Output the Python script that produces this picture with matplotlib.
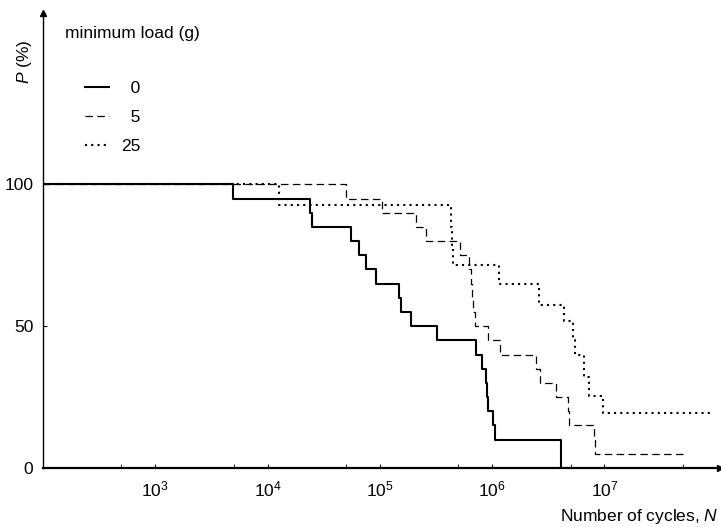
import matplotlib
matplotlib.use("Agg")
import matplotlib.pyplot as plt

plt.rcParams['font.family'] = ['Liberation Sans', 'DejaVu Sans']
plt.rcParams['mathtext.fontset'] = 'custom'
plt.rcParams['mathtext.rm'] = 'Liberation Sans'
plt.rcParams['mathtext.it'] = 'Liberation Sans:italic'

# survival curves: cycles at each step and the level after it
n_load0 = [1e2, 4.9e3, 2.4e4, 2.5e4, 5.5e4, 6.5e4, 7.5e4, 9.2e4, 1.48e5, 1.53e5,
           1.89e5, 3.2e5, 7.2e5, 8.1e5, 8.8e5, 9.0e5, 9.2e5, 1.02e6, 1.07e6, 4.1e6]
p_load0 = [100, 95, 90, 85, 80, 75, 70, 65, 60, 55,
           50, 45, 40, 35, 30, 25, 20, 15, 10, 0]

n_load5 = [1e2, 4.95e4, 1.04e5, 2.1e5, 2.6e5, 5.15e5, 6.25e5, 6.45e5, 6.6e5, 6.8e5,
           7.0e5, 9.2e5, 1.17e6, 2.48e6, 2.66e6, 3.69e6, 4.75e6, 4.8e6, 8.05e6, 8.3e6, 5.2e7]
p_load5 = [100, 95, 90, 85, 80, 75, 70, 65, 60, 55,
           50, 45, 40, 35, 30, 25, 20, 15, 10, 5, 5]

n_load25 = [1e2, 1.27e4, 4.27e5, 4.38e5, 4.5e5, 1.15e6, 2.6e6, 4.35e6, 5.26e6, 5.5e6,
            6.62e6, 7.26e6, 9.7e6, 9.0e7]
p_load25 = [100, 92.7, 85, 78.6, 71.4, 64.7, 57.3, 51.8, 45, 39.8,
            32.2, 25.3, 19.3, 19.3]

load_labels = ['\u20070', '\u20075', '25']
x_ticks = [1e3, 1e4, 1e5, 1e6, 1e7]
x_minor = [5e2, 5e3, 5e4, 5e5, 5e6, 5e7]
y_ticks = [0, 50, 100]

fig = plt.figure(figsize=(7.21, 5.27), dpi=100)
ax = fig.add_axes([43/721, 59/527, 677/721, 455/527])

l25, = ax.step(n_load25, p_load25, where='post', color='k', lw=1.5, ls=(0, (1, 2)))
l5, = ax.step(n_load5, p_load5, where='post', color='k', lw=0.9, ls=(0, (6, 3.5)))
l0, = ax.step(n_load0, p_load0, where='post', color='k', lw=1.5)

ax.set_xscale('log')
ax.set_xlim(1e2, 10**8.03)
ax.set_ylim(0, 160.4)
ax.set_xticks(x_ticks)
ax.set_xticks(x_minor, minor=True)
ax.set_xticklabels(['$10^{%d}$' % k for k in range(3, 8)])
ax.set_xticklabels([], minor=True)
ax.set_yticks(y_ticks)
ax.tick_params(axis='both', which='both', direction='in', length=3, labelsize=12.5)
ax.tick_params(axis='x', pad=8)
ax.tick_params(axis='y', pad=7)

ax.spines['top'].set_visible(False)
ax.spines['right'].set_visible(False)
ax.spines['bottom'].set_linewidth(1.6)
ax.spines['left'].set_linewidth(1.0)
ax.plot(0, 1, marker='^', ms=5, color='k', transform=ax.transAxes, clip_on=False)
ax.plot(1, 0, marker='>', ms=5, color='k', transform=ax.transAxes, clip_on=False)

fig.text(65/721, 1 - 34/527, 'minimum load (g)', fontsize=12.5, ha='left', va='center')
leg = ax.legend([l0, l5, l25], load_labels, loc='upper left',
                bbox_to_anchor=(85/721, 1 - 81/527), bbox_transform=fig.transFigure,
                frameon=False, fontsize=12.5, handlelength=1.4, handletextpad=0.7,
                labelspacing=0.8, borderpad=0, borderaxespad=0)

fig.text(25/721, 1 - 62/527, '$P$ (%)', fontsize=12.5, rotation=90, ha='center', va='center')
fig.text(718/721, 1 - 516/527, 'Number of cycles, $N$', fontsize=12.5, ha='right', va='center')

fig.savefig('out.png', dpi=100)
